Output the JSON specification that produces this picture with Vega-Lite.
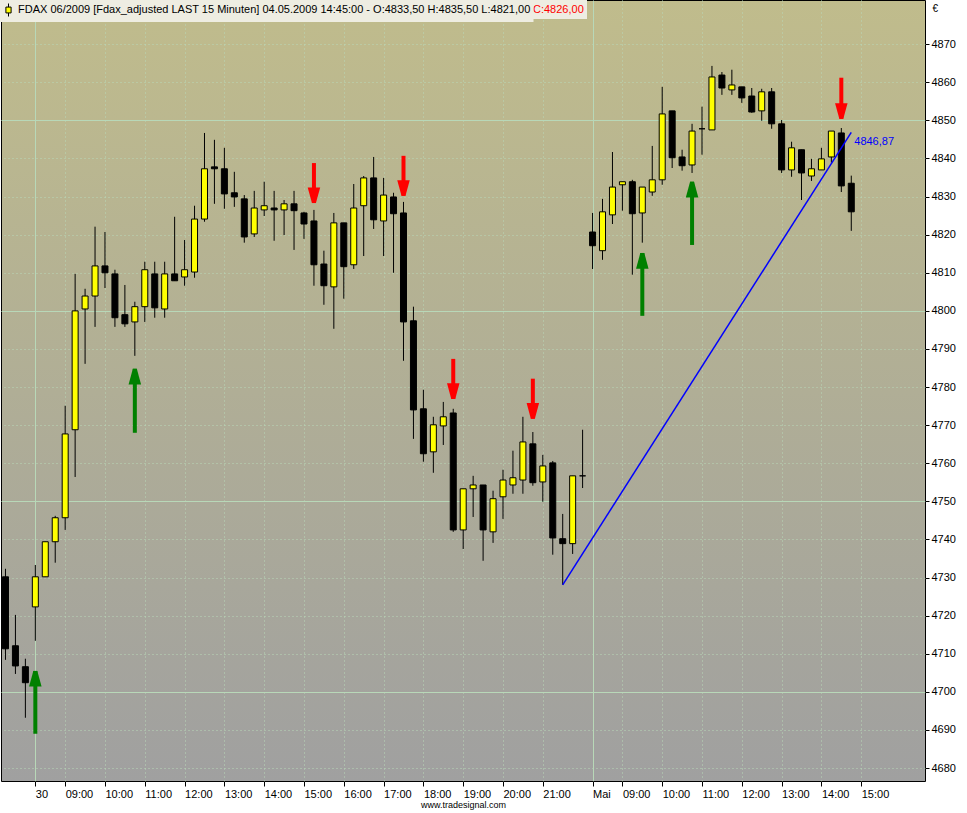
{
  "$schema": "https://vega.github.io/schema/vega-lite/v6.json",
  "width": 924,
  "height": 781,
  "autosize": {"type": "none"},
  "padding": {"left": 1, "top": 0, "right": 42, "bottom": 32},
  "background": "#ffffff",
  "config": {
    "font": "Liberation Sans",
    "view": {"stroke": "#000000", "strokeWidth": 1, "fill": {"gradient": "linear", "x1": 0, "y1": 0, "x2": 0, "y2": 1, "stops": [{"offset": 0, "color": "#c0bc8c"}, {"offset": 1, "color": "#a0a0a0"}]}},
    "axis": {"labelFont": "Liberation Sans", "labelFontSize": 11, "labelColor": "#000000", "tickColor": "#000000", "tickWidth": 1, "domain": false, "gridColor": "#b8d8b8", "gridWidth": 1, "gridOpacity": 1}
  },
  "datasets": {
    "bars": [
      {"i":0,"o":4730.2,"h":4732.3,"l":4708.4,"c":4711.3},
      {"i":1,"o":4712.1,"h":4720.2,"l":4704.7,"c":4706.8},
      {"i":2,"o":4706.6,"h":4708.7,"l":4693.2,"c":4702.4},
      {"i":3,"o":4722.3,"h":4733.3,"l":4713.4,"c":4730.2},
      {"i":4,"o":4730.2,"h":4739.4,"l":4730.2,"c":4739.4},
      {"i":5,"o":4739.4,"h":4746.2,"l":4733.9,"c":4745.7},
      {"i":6,"o":4745.7,"h":4775.1,"l":4742.5,"c":4767.7},
      {"i":7,"o":4768.8,"h":4809.7,"l":4756.4,"c":4800.0},
      {"i":8,"o":4800.5,"h":4805.8,"l":4786.1,"c":4803.9},
      {"i":9,"o":4803.9,"h":4822.1,"l":4795.8,"c":4811.8},
      {"i":10,"o":4811.8,"h":4820.7,"l":4806.0,"c":4810.0},
      {"i":11,"o":4809.7,"h":4810.8,"l":4795.8,"c":4798.2},
      {"i":12,"o":4799.0,"h":4806.8,"l":4795.8,"c":4796.6},
      {"i":13,"o":4797.1,"h":4802.4,"l":4788.2,"c":4801.1},
      {"i":14,"o":4801.1,"h":4812.9,"l":4797.1,"c":4810.8},
      {"i":15,"o":4809.7,"h":4812.9,"l":4798.2,"c":4800.8},
      {"i":16,"o":4800.5,"h":4812.9,"l":4798.2,"c":4809.7},
      {"i":17,"o":4809.7,"h":4824.7,"l":4807.9,"c":4807.9},
      {"i":18,"o":4808.9,"h":4818.6,"l":4806.6,"c":4810.8},
      {"i":19,"o":4810.2,"h":4827.6,"l":4808.7,"c":4824.1},
      {"i":20,"o":4824.1,"h":4846.7,"l":4823.4,"c":4837.3},
      {"i":21,"o":4837.8,"h":4844.9,"l":4828.1,"c":4837.3},
      {"i":22,"o":4837.3,"h":4842.8,"l":4826.8,"c":4830.7},
      {"i":23,"o":4831.0,"h":4836.5,"l":4827.3,"c":4829.9},
      {"i":24,"o":4829.4,"h":4830.4,"l":4817.9,"c":4819.4},
      {"i":25,"o":4820.2,"h":4831.5,"l":4819.4,"c":4827.0},
      {"i":26,"o":4826.5,"h":4833.9,"l":4824.9,"c":4827.6},
      {"i":27,"o":4827.0,"h":4831.5,"l":4818.4,"c":4826.5},
      {"i":28,"o":4826.5,"h":4829.1,"l":4819.9,"c":4828.1},
      {"i":29,"o":4828.1,"h":4831.5,"l":4816.0,"c":4826.3},
      {"i":30,"o":4825.7,"h":4826.0,"l":4818.9,"c":4822.8},
      {"i":31,"o":4823.6,"h":4826.5,"l":4806.6,"c":4812.1},
      {"i":32,"o":4812.3,"h":4815.8,"l":4801.6,"c":4806.6},
      {"i":33,"o":4806.3,"h":4825.7,"l":4795.3,"c":4823.1},
      {"i":34,"o":4823.1,"h":4823.1,"l":4803.2,"c":4811.6},
      {"i":35,"o":4812.1,"h":4833.3,"l":4811.0,"c":4827.0},
      {"i":36,"o":4827.6,"h":4835.4,"l":4814.4,"c":4834.9},
      {"i":37,"o":4834.9,"h":4840.4,"l":4821.5,"c":4823.9},
      {"i":38,"o":4823.6,"h":4834.9,"l":4814.4,"c":4830.4},
      {"i":39,"o":4829.9,"h":4831.0,"l":4810.0,"c":4825.5},
      {"i":40,"o":4825.7,"h":4828.6,"l":4786.9,"c":4797.1},
      {"i":41,"o":4797.4,"h":4801.1,"l":4766.4,"c":4774.0},
      {"i":42,"o":4774.3,"h":4779.3,"l":4760.4,"c":4762.5},
      {"i":43,"o":4763.0,"h":4772.2,"l":4757.5,"c":4770.1},
      {"i":44,"o":4769.8,"h":4776.1,"l":4764.8,"c":4772.2},
      {"i":45,"o":4773.2,"h":4774.3,"l":4742.0,"c":4742.5},
      {"i":46,"o":4742.5,"h":4753.3,"l":4737.5,"c":4753.3},
      {"i":47,"o":4753.3,"h":4756.7,"l":4745.9,"c":4754.3},
      {"i":48,"o":4754.3,"h":4754.3,"l":4734.4,"c":4742.5},
      {"i":49,"o":4742.0,"h":4752.8,"l":4739.1,"c":4750.7},
      {"i":50,"o":4751.2,"h":4758.3,"l":4745.4,"c":4755.6},
      {"i":51,"o":4754.3,"h":4763.3,"l":4752.0,"c":4756.2},
      {"i":52,"o":4755.6,"h":4772.2,"l":4752.0,"c":4765.6},
      {"i":53,"o":4765.1,"h":4768.2,"l":4754.1,"c":4754.9},
      {"i":54,"o":4755.1,"h":4762.2,"l":4749.9,"c":4759.3},
      {"i":55,"o":4760.1,"h":4760.6,"l":4736.0,"c":4740.4},
      {"i":56,"o":4740.2,"h":4746.7,"l":4728.1,"c":4738.9},
      {"i":57,"o":4738.9,"h":4756.7,"l":4736.2,"c":4756.7},
      {"i":58,"o":4756.7,"h":4768.8,"l":4753.5,"c":4756.7},
      {"i":59,"o":4820.7,"h":4825.7,"l":4811.0,"c":4817.1},
      {"i":60,"o":4815.8,"h":4829.4,"l":4813.4,"c":4826.0},
      {"i":61,"o":4825.2,"h":4841.7,"l":4822.8,"c":4832.5},
      {"i":62,"o":4833.1,"h":4833.9,"l":4826.3,"c":4833.9},
      {"i":63,"o":4833.9,"h":4834.4,"l":4809.5,"c":4825.5},
      {"i":64,"o":4825.7,"h":4832.5,"l":4817.9,"c":4832.5},
      {"i":65,"o":4831.2,"h":4843.3,"l":4830.2,"c":4834.4},
      {"i":66,"o":4834.4,"h":4858.8,"l":4833.1,"c":4851.7},
      {"i":67,"o":4852.5,"h":4852.5,"l":4837.5,"c":4840.2},
      {"i":68,"o":4840.4,"h":4842.3,"l":4836.8,"c":4838.1},
      {"i":69,"o":4838.3,"h":4849.1,"l":4836.2,"c":4847.2},
      {"i":70,"o":4847.8,"h":4853.6,"l":4841.0,"c":4847.8},
      {"i":71,"o":4847.5,"h":4864.3,"l":4847.5,"c":4861.4},
      {"i":72,"o":4861.9,"h":4862.7,"l":4856.7,"c":4858.5},
      {"i":73,"o":4858.0,"h":4863.3,"l":4856.7,"c":4859.3},
      {"i":74,"o":4858.8,"h":4858.8,"l":4854.6,"c":4855.9},
      {"i":75,"o":4856.4,"h":4858.5,"l":4852.0,"c":4852.2},
      {"i":76,"o":4852.5,"h":4858.3,"l":4849.9,"c":4857.5},
      {"i":77,"o":4857.5,"h":4858.5,"l":4847.8,"c":4849.1},
      {"i":78,"o":4849.1,"h":4850.1,"l":4836.2,"c":4837.0},
      {"i":79,"o":4837.0,"h":4844.4,"l":4835.2,"c":4842.8},
      {"i":80,"o":4842.3,"h":4842.3,"l":4829.1,"c":4836.2},
      {"i":81,"o":4835.4,"h":4839.9,"l":4834.1,"c":4837.3},
      {"i":82,"o":4837.0,"h":4842.8,"l":4837.0,"c":4839.9},
      {"i":83,"o":4840.4,"h":4847.2,"l":4838.9,"c":4847.2},
      {"i":84,"o":4846.7,"h":4848.0,"l":4831.2,"c":4832.8},
      {"i":85,"o":4833.5,"h":4835.5,"l":4821.0,"c":4826.0}
    ],
    "arrows": [
      {"i":3,"tail":4689.0,"tip":4705.5,"dir":"up"},
      {"i":13,"tail":4768.0,"tip":4784.8,"dir":"up"},
      {"i":31,"tail":4838.8,"tip":4828.3,"dir":"down"},
      {"i":40,"tail":4840.7,"tip":4830.2,"dir":"down"},
      {"i":45,"tail":4787.4,"tip":4776.9,"dir":"down"},
      {"i":53,"tail":4782.2,"tip":4771.7,"dir":"down"},
      {"i":64,"tail":4798.7,"tip":4815.2,"dir":"up"},
      {"i":69,"tail":4817.3,"tip":4833.9,"dir":"up"},
      {"i":84,"tail":4861.2,"tip":4850.4,"dir":"down"}
    ],
    "trend": [
      {"i":56,"p":4728.1},
      {"i":85,"p":4846.87}
    ],
    "trendlabel": [
      {"i":85,"p":4846.87,"label":"4846,87"}
    ]
  },
  "encoding": {
    "x": {"field": "i", "type": "quantitative", "scale": {"domain": [-0.45, 92.41], "nice": false, "zero": false, "padding": 0},
      "axis": {
        "orient": "bottom",
        "values": [3,6,10,14,18,22,26,30,34,38,42,46,50,54,59,62,66,70,74,78,82,86],
        "labelExpr": "['30','09:00','10:00','11:00','12:00','13:00','14:00','15:00','16:00','17:00','18:00','19:00','20:00','21:00','Mai','09:00','10:00','11:00','12:00','13:00','14:00','15:00'][indexof([3,6,10,14,18,22,26,30,34,38,42,46,50,54,59,62,66,70,74,78,82,86], datum.value)]",
        "title": "www.tradesignal.com",
        "titleFontSize": 9, "titleFontWeight": "normal", "titleColor": "#000000", "titlePadding": 1, "titleFont": "Liberation Sans",
        "grid": true,
        "gridDash": {"condition": {"test": "datum.value === 3 || datum.value === 59", "value": []}, "value": [1, 3]},
        "tickSize": 5,
        "labelAlign": "left", "labelBaseline": "top", "labelPadding": 2, "labelDx": 1,
        "labelOverlap": false, "labelFlush": false, "labelBound": false
      }
    }
  },
  "layer": [
    {
      "data": {"name": "bars"},
      "mark": {"type": "rule", "strokeWidth": 1},
      "encoding": {
        "y": {"field": "l", "type": "quantitative", "scale": {"domain": [4676.6, 4881.6], "nice": false, "zero": false, "padding": 0},
          "axis": {
            "orient": "right",
            "values": [4680,4690,4700,4710,4720,4730,4740,4750,4760,4770,4780,4790,4800,4810,4820,4830,4840,4850,4860,4870],
            "format": "d",
            "grid": true,
            "gridDash": {"condition": {"test": "datum.value % 50 === 0", "value": []}, "value": [1, 3]},
            "tickSize": 4, "labelPadding": 2, "labelBaseline": "middle", "labelAlign": "left",
            "labelOverlap": false, "labelFlush": false, "labelBound": false,
            "title": "€", "titleAngle": 0, "titleX": 7, "titleY": 8, "titleAlign": "left", "titleBaseline": "middle",
            "titleFontWeight": "normal", "titleFontSize": 10, "titleColor": "#000000", "titleFont": "Liberation Sans"
          }
        },
        "y2": {"field": "h"},
        "color": {"datum": "C:4826,00", "scale": {"range": ["#000000"]},
          "legend": {
            "orient": "none", "legendX": 516, "legendY": 0, "title": null,
            "fillColor": "#eeede2", "padding": 3,
            "symbolType": "circle", "symbolSize": 169, "symbolOpacity": 0, "symbolStrokeWidth": 0,
            "labelColor": "#ff0000", "labelFontSize": 11, "labelFont": "Liberation Sans", "labelOffset": 0, "labelLimit": 1000
          }
        }
      }
    },
    {
      "data": {"name": "bars"},
      "transform": [{"filter": "datum.c <= datum.o"}],
      "mark": {"type": "bar", "width": 6, "fill": "#000000", "stroke": "#000000", "strokeWidth": 1},
      "encoding": {
        "y": {"field": "o", "type": "quantitative", "scale": {"domain": [4676.6, 4881.6], "nice": false, "zero": false, "padding": 0}},
        "y2": {"field": "c"}
      }
    },
    {
      "data": {"name": "bars"},
      "transform": [{"filter": "datum.c > datum.o"}],
      "mark": {"type": "bar", "width": 6, "stroke": "#000000", "strokeWidth": 1},
      "encoding": {
        "y": {"field": "o", "type": "quantitative", "scale": {"domain": [4676.6, 4881.6], "nice": false, "zero": false, "padding": 0}},
        "y2": {"field": "c"},
        "fill": {"datum": "FDAX 06/2009 [Fdax_adjusted LAST 15 Minuten] 04.05.2009 14:45:00 - O:4833,50 H:4835,50 L:4821,00", "scale": {"range": ["#ffff00"]},
          "legend": {
            "orient": "none", "legendX": -2.5, "legendY": 0, "title": null,
            "fillColor": "#eeede2", "padding": 3,
            "symbolType": "M0,-1V-0.45M0,0.45V1M-0.4,-0.45H0.4V0.45H-0.4Z", "symbolSize": 169,
            "symbolFillColor": "#ffff00", "symbolStrokeColor": "#000000", "symbolStrokeWidth": 1,
            "labelOffset": 2.5, "labelFontSize": 11, "labelFont": "Liberation Sans", "labelColor": "#000000", "labelLimit": 1000
          }
        }
      }
    },
    {
      "data": {"name": "arrows"},
      "mark": {"type": "rule", "strokeWidth": 4},
      "encoding": {
        "y": {"field": "tail", "type": "quantitative", "scale": {"domain": [4676.6, 4881.6], "nice": false, "zero": false, "padding": 0}},
        "y2": {"field": "tip"},
        "color": {"condition": {"test": "datum.dir === 'up'", "value": "#008000"}, "value": "#ff0000"}
      }
    },
    {
      "data": {"name": "arrows"},
      "mark": {"type": "point", "filled": true, "size": 256, "opacity": 1, "strokeWidth": 0},
      "encoding": {
        "y": {"field": "tip", "type": "quantitative", "scale": {"domain": [4676.6, 4881.6], "nice": false, "zero": false, "padding": 0}},
        "shape": {"condition": {"test": "datum.dir === 'up'", "value": "M-0.25,0L0.25,0L0.78,1.96L-0.78,1.96Z"}, "value": "M-0.25,0L0.25,0L0.78,-1.96L-0.78,-1.96Z"},
        "color": {"condition": {"test": "datum.dir === 'up'", "value": "#008000"}, "value": "#ff0000"}
      }
    },
    {
      "data": {"name": "trend"},
      "mark": {"type": "line", "strokeWidth": 1.5, "color": "#0000ff"},
      "encoding": {
        "y": {"field": "p", "type": "quantitative", "scale": {"domain": [4676.6, 4881.6], "nice": false, "zero": false, "padding": 0}}
      }
    },
    {
      "data": {"name": "trendlabel"},
      "mark": {"type": "text", "align": "left", "baseline": "middle", "dx": 3, "dy": 10, "fontSize": 11, "font": "Liberation Sans", "color": "#0000ff"},
      "encoding": {
        "y": {"field": "p", "type": "quantitative", "scale": {"domain": [4676.6, 4881.6], "nice": false, "zero": false, "padding": 0}},
        "text": {"field": "label"}
      }
    }
  ]
}
